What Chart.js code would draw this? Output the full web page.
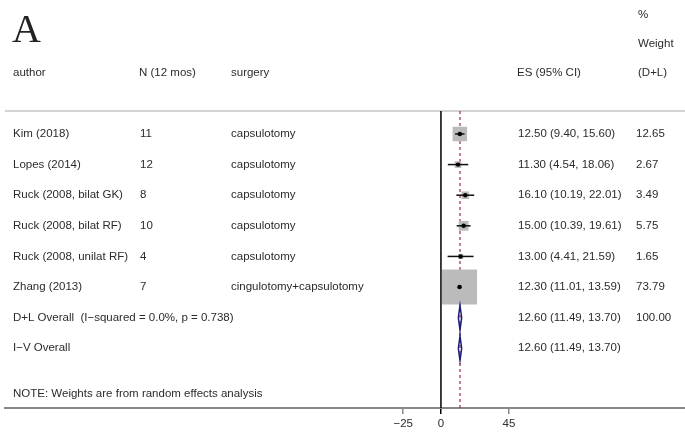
<!DOCTYPE html>
<html>
<head>
<meta charset="utf-8">
<script src="https://cdn.jsdelivr.net/npm/chart.js@4"></script>
<style>
  body { margin: 0; background: #fff; }
</style>
</head>
<body>
<canvas id="forest" width="685" height="432"></canvas>
<script>
const authors = ['Kim (2018)', 'Lopes (2014)', 'Ruck (2008, bilat GK)', 'Ruck (2008, bilat RF)', 'Ruck (2008, unilat RF)', 'Zhang (2013)'];
const nPatients = ['11', '12', '8', '10', '4', '7'];
const surgery = ['capsulotomy', 'capsulotomy', 'capsulotomy', 'capsulotomy', 'capsulotomy', 'cingulotomy+capsulotomy'];
const es = [12.50, 11.30, 16.10, 15.00, 13.00, 12.30];
const lower = [9.40, 4.54, 10.19, 10.39, 4.41, 11.01];
const upper = [15.60, 18.06, 22.01, 19.61, 21.59, 13.59];
const weights = [12.65, 2.67, 3.49, 5.75, 1.65, 73.79];

const overallLabels = ['D+L Overall  (I\u2212squared = 0.0%, p = 0.738)', 'I\u2212V Overall'];
const overallEs = [12.60, 12.60];
const overallLower = [11.49, 11.49];
const overallUpper = [13.70, 13.70];
const overallWeight = ['100.00', ''];

const xTicks = [-25, 0, 45];
const note = 'NOTE: Weights are from random effects analysis';

const yTop = -0.75, yBottom = 8.95;
const pooledEs = overallEs[0];
const maxW = Math.max(...weights);

const datasets = [];

// reference lines
datasets.push({
  data: [{x: pooledEs, y: yTop}, {x: pooledEs, y: yBottom}],
  showLine: true, pointRadius: 0, borderColor: '#9a2a3a', borderWidth: 1.2,
  borderDash: [3, 3], order: 10
});
datasets.push({
  data: [{x: 0, y: yTop}, {x: 0, y: yBottom}],
  showLine: true, pointRadius: 0, borderColor: '#000', borderWidth: 1.5, order: 9
});

// weight boxes, side ~ sqrt(weight)
datasets.push({
  data: es.map((v, i) => ({x: v, y: i})),
  pointStyle: 'rect',
  pointRadius: weights.map(w => 35 * Math.sqrt(w / maxW) / Math.SQRT2),
  backgroundColor: '#bbbbbb', borderWidth: 0, order: 5
});

// confidence intervals
es.forEach((v, i) => {
  datasets.push({
    data: [{x: lower[i], y: i}, {x: upper[i], y: i}],
    showLine: true, pointRadius: 0, borderColor: '#111', borderWidth: 1.5, order: 4
  });
});

// point estimates
datasets.push({
  data: es.map((v, i) => ({x: v, y: i})),
  pointStyle: 'circle', pointRadius: 2.2, backgroundColor: '#000', borderWidth: 0, order: 3
});

// pooled diamonds
overallEs.forEach((v, k) => {
  const r = authors.length + k;
  datasets.push({
    data: [
      {x: overallLower[k], y: r}, {x: v, y: r - 0.4},
      {x: overallUpper[k], y: r}, {x: v, y: r + 0.4},
      {x: overallLower[k], y: r}
    ],
    showLine: true, pointRadius: 0, borderColor: '#1c1c7a', borderWidth: 1.5,
    tension: 0, order: 2
  });
});

const txtFont = '11.5px "Liberation Sans", Arial, sans-serif';

const tablePlugin = {
  id: 'table',
  beforeDatasetsDraw(chart) {
    const {ctx, chartArea} = chart;
    ctx.save();
    ctx.strokeStyle = '#d4d4d4';
    ctx.lineWidth = 2;
    ctx.beginPath();
    ctx.moveTo(chartArea.left, chartArea.top);
    ctx.lineTo(chartArea.right, chartArea.top);
    ctx.stroke();
    ctx.restore();
  },
  afterDraw(chart) {
    const {ctx} = chart;
    const y = chart.scales.y;
    ctx.save();
    ctx.fillStyle = '#222';
    ctx.font = '40px "Liberation Serif", "Times New Roman", serif';
    ctx.textBaseline = 'alphabetic';
    ctx.fillText('A', 12, 42);

    ctx.font = txtFont;
    ctx.fillStyle = '#2b2b2b';
    ctx.textBaseline = 'middle';
    const row = (txt, x, r) => ctx.fillText(txt, x, y.getPixelForValue(r));

    row('%', 638, -3.9);
    row('Weight', 638, -2.95);
    row('author', 13, -2);
    row('N (12 mos)', 139, -2);
    row('surgery', 231, -2);
    row('ES (95% CI)', 517, -2);
    row('(D+L)', 638, -2);

    authors.forEach((a, i) => {
      row(a, 13, i);
      row(nPatients[i], 140, i);
      row(surgery[i], 231, i);
      row(`${es[i].toFixed(2)} (${lower[i].toFixed(2)}, ${upper[i].toFixed(2)})`, 518, i);
      row(weights[i].toFixed(2), 636, i);
    });
    overallLabels.forEach((l, k) => {
      const r = authors.length + k;
      row(l, 13, r);
      row(`${overallEs[k].toFixed(2)} (${overallLower[k].toFixed(2)}, ${overallUpper[k].toFixed(2)})`, 518, r);
      row(overallWeight[k], 636, r);
    });
    row(note, 13, 8.5);
    ctx.restore();
  }
};

new Chart(document.getElementById('forest'), {
  type: 'scatter',
  data: {datasets},
  plugins: [tablePlugin],
  options: {
    responsive: false,
    animation: false,
    events: [],
    layout: {autoPadding: false, padding: {top: 111, left: 5, right: 0, bottom: 0}},
    plugins: {legend: {display: false}, tooltip: {enabled: false}},
    elements: {line: {fill: false}},
    scales: {
      x: {
        type: 'linear', min: -288.5, max: 161.5,
        afterBuildTicks: (scale) => { scale.ticks = xTicks.map(v => ({value: v})); },
        afterFit: (scale) => { scale.height = 24; },
        grid: {
          drawOnChartArea: false, drawTicks: true, tickLength: 6, lineWidth: 1.5,
          color: (c) => (c.tick && c.tick.value === 0 ? '#000' : '#888')
        },
        border: {display: true, color: '#888', width: 2},
        ticks: {
          color: '#2b2b2b', padding: 3,
          font: {family: '"Liberation Sans", Arial, sans-serif', size: 11.5},
          callback: (v) => String(v).replace('-', '\u2212')
        }
      },
      y: {type: 'linear', reverse: true, min: yTop, max: yBottom, display: false}
    }
  }
});
</script>
</body>
</html>
